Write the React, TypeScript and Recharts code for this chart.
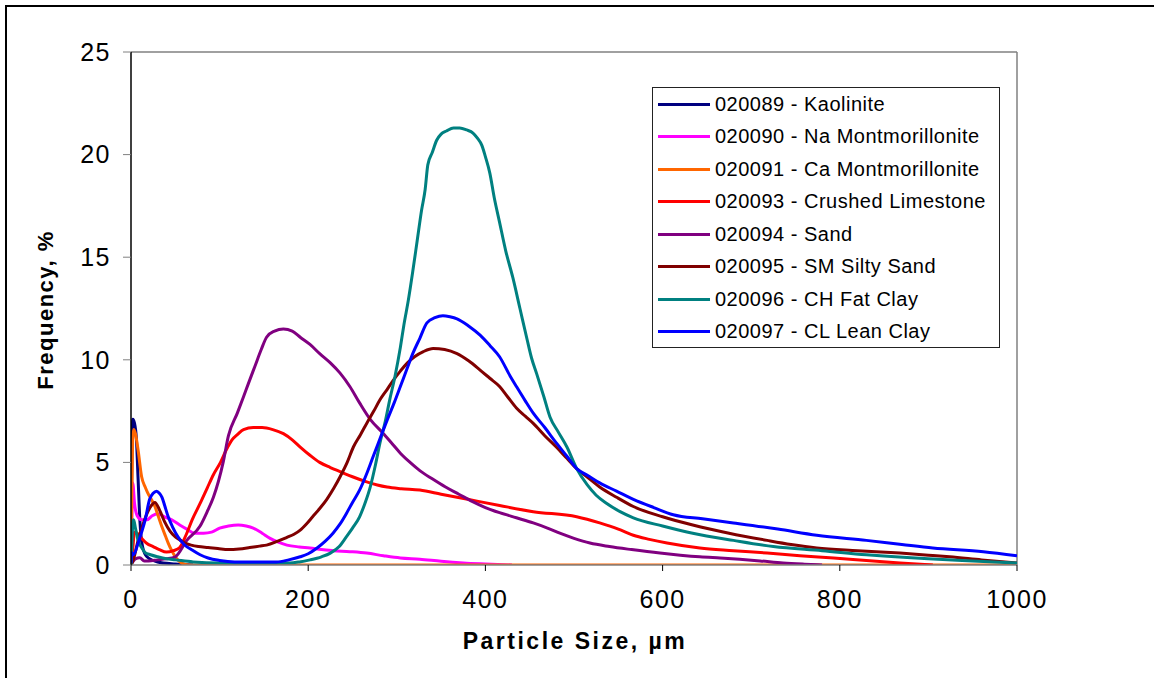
import { LineChart, Line, XAxis, YAxis, Legend, ReferenceLine, Label } from 'recharts';

// particle size (µm) / frequency (%) pairs for each sample
const kaolinite = [
  [0, 0.3], [1, 5.5], [2, 7.1], [4, 6.9], [6, 6.2], [8, 4.2], [10, 2.2], [13, 0.9],
  [18, 0.4], [30, 0.15], [50, 0.05], [70, 0],
];

const naMontmorillonite = [
  [0, 0], [1, 2.2], [2, 4.0], [4, 3.0], [7, 2.4], [12, 2.2], [18, 2.2], [24, 2.4],
  [30, 2.5], [38, 2.35], [46, 2.2], [55, 1.95], [63, 1.75], [72, 1.55], [82, 1.55],
  [91, 1.6], [100, 1.8], [110, 1.9], [121, 1.95], [130, 1.9], [138, 1.8], [148, 1.55],
  [157, 1.3], [167, 1.1], [176, 0.97], [190, 0.88], [202, 0.83], [215, 0.75],
  [228, 0.7], [247, 0.65], [266, 0.58], [285, 0.45], [304, 0.34], [326, 0.28],
  [350, 0.18], [375, 0.1], [400, 0.05], [430, 0],
];

const caMontmorillonite = [
  [0, 0.2], [1, 3.5], [2, 6.2], [3, 6.6], [5, 6.4], [8, 5.6], [12, 4.3], [16, 3.8],
  [19, 3.5], [23, 3.2], [27, 2.85], [31, 2.35], [35, 1.85], [39, 1.4], [42, 1.07],
  [46, 0.7], [50, 0.4], [54, 0.2], [58, 0.08], [65, 0], [1000, 0],
];

const crushedLimestone = [
  [0, 0], [2, 0.8], [4, 1.6], [7, 1.55], [12, 1.3], [18, 1.05], [25, 0.9], [32, 0.75],
  [40, 0.63], [48, 0.7], [55, 0.85], [62, 1.45], [69, 2.2], [78, 3.0], [86, 3.75],
  [93, 4.4], [101, 5.0], [108, 5.65], [114, 6.1], [120, 6.35], [127, 6.6], [138, 6.7],
  [148, 6.7], [160, 6.6], [172, 6.4], [182, 6.1], [191, 5.75], [202, 5.35], [213, 5.0],
  [225, 4.75], [236, 4.55], [250, 4.3], [266, 4.05], [278, 3.9], [289, 3.8],
  [305, 3.72], [326, 3.65], [350, 3.45], [380, 3.2], [416, 2.9], [454, 2.6],
  [503, 2.35], [529, 2.05], [550, 1.75], [567, 1.45], [585, 1.25], [605, 1.07],
  [642, 0.83], [680, 0.7], [718, 0.58], [755, 0.45], [793, 0.34], [830, 0.22],
  [868, 0.1], [905, 0],
];

const sand = [
  [0, 0], [5, 0.3], [10, 0.35], [15, 0.2], [20, 0.2], [30, 0.25], [40, 0.3], [50, 0.4],
  [63, 1.2], [78, 1.9], [86, 2.6], [93, 3.3], [104, 5.0], [110, 6.3], [120, 7.4],
  [127, 8.2], [133, 8.9], [140, 9.7], [147, 10.5], [153, 11.1], [162, 11.4],
  [172, 11.5], [182, 11.4], [191, 11.1], [202, 10.75], [213, 10.3], [225, 9.85],
  [236, 9.35], [247, 8.7], [258, 7.9], [270, 7.1], [285, 6.4], [295, 5.9], [304, 5.45],
  [315, 5.0], [326, 4.6], [340, 4.2], [355, 3.8], [370, 3.45], [385, 3.1], [400, 2.8],
  [416, 2.55], [435, 2.3], [454, 2.05], [470, 1.8], [484, 1.55], [500, 1.3],
  [518, 1.07], [540, 0.9], [565, 0.75], [597, 0.58], [620, 0.48], [642, 0.4],
  [665, 0.34], [687, 0.28], [710, 0.2], [736, 0.1], [760, 0.04], [780, 0],
];

const silty = [
  [0, 0], [3, 0.3], [8, 1.2], [13, 1.9], [18, 2.5], [23, 2.9], [27, 3.05], [32, 2.7],
  [38, 2.1], [44, 1.65], [50, 1.37], [56, 1.2], [61, 1.07], [68, 0.97], [76, 0.9],
  [87, 0.85], [98, 0.8], [110, 0.75], [122, 0.78], [134, 0.85], [145, 0.92],
  [153, 0.97], [165, 1.15], [176, 1.35], [184, 1.5], [191, 1.7], [198, 2.0],
  [205, 2.35], [213, 2.75], [221, 3.2], [229, 3.75], [236, 4.3], [244, 5.0],
  [251, 5.75], [259, 6.35], [266, 6.9], [274, 7.5], [281, 8.05], [289, 8.55],
  [296, 9.0], [304, 9.45], [312, 9.85], [320, 10.15], [330, 10.4], [341, 10.55],
  [354, 10.5], [368, 10.3], [381, 9.95], [394, 9.5], [405, 9.1], [416, 8.7],
  [425, 8.2], [435, 7.65], [445, 7.25], [454, 6.9], [467, 6.3], [480, 5.75],
  [492, 5.2], [503, 4.7], [516, 4.25], [529, 3.8], [548, 3.3], [567, 2.85],
  [600, 2.35], [634, 1.95], [675, 1.55], [718, 1.2], [745, 1.0], [774, 0.83],
  [820, 0.7], [868, 0.58], [900, 0.48], [924, 0.4], [960, 0.25], [1000, 0.1],
];

const fatClay = [
  [0, 0], [1, 1.0], [2, 2.0], [3, 2.2], [5, 1.8], [8, 1.2], [12, 0.85], [16, 0.6],
  [22, 0.5], [30, 0.4], [40, 0.3], [50, 0.25], [70, 0.15], [100, 0.1], [140, 0.1],
  [179, 0.1], [190, 0.15], [202, 0.25], [215, 0.4], [225, 0.58], [235, 0.9],
  [243, 1.37], [250, 1.8], [258, 2.35], [264, 3.0], [270, 3.8], [276, 4.9],
  [281, 5.95], [287, 7.0], [292, 8.05], [298, 9.2], [304, 10.6], [308, 11.7],
  [313, 12.9], [318, 14.3], [323, 15.8], [328, 17.3], [332, 18.3], [335, 19.5],
  [340, 20.1], [345, 20.7], [350, 21.0], [356, 21.15], [364, 21.3], [371, 21.3],
  [379, 21.2], [386, 21.05], [391, 20.8], [396, 20.45], [400, 19.9], [405, 19.1],
  [410, 17.9], [416, 16.7], [423, 15.3], [431, 14.0], [439, 12.5], [447, 11.0],
  [452, 10.1], [458, 9.3], [466, 8.2], [473, 7.2], [482, 6.5], [492, 5.75],
  [503, 4.7], [515, 3.9], [525, 3.4], [537, 3.0], [552, 2.6], [567, 2.3], [600, 1.9],
  [634, 1.55], [680, 1.2], [725, 0.9], [780, 0.7], [830, 0.5], [900, 0.3],
  [950, 0.2], [1000, 0.1],
];

const leanClay = [
  [0, 0.1], [1, 0.6], [3, 0.5], [8, 1.07], [12, 1.6], [16, 2.2], [21, 3.2], [25, 3.5],
  [29, 3.6], [32, 3.5], [35, 3.3], [38, 2.9], [42, 2.35], [47, 1.85], [53, 1.37],
  [60, 1.0], [69, 0.73], [78, 0.5], [87, 0.34], [100, 0.22], [117, 0.15], [140, 0.15],
  [164, 0.15], [178, 0.25], [191, 0.4], [200, 0.55], [210, 0.83], [219, 1.15],
  [228, 1.55], [236, 2.0], [243, 2.5], [250, 3.05], [258, 3.65], [266, 4.45],
  [273, 5.25], [281, 6.15], [289, 7.05], [297, 7.9], [304, 8.7], [311, 9.5],
  [318, 10.3], [326, 11.05], [334, 11.8], [343, 12.05], [352, 12.15], [360, 12.1],
  [368, 12.0], [381, 11.65], [394, 11.2], [405, 10.7], [416, 10.15], [428, 9.2],
  [435, 8.7], [445, 8.0], [454, 7.4], [467, 6.7], [480, 5.95], [492, 5.3], [503, 4.7],
  [516, 4.35], [529, 4.0], [548, 3.6], [567, 3.2], [590, 2.8], [612, 2.45],
  [645, 2.25], [680, 2.05], [730, 1.75], [774, 1.45], [830, 1.2], [870, 1.0],
  [905, 0.83], [962, 0.65], [1000, 0.45],
];

const series = [
  { name: '020089 - Kaolinite', color: '#000080', points: kaolinite },
  { name: '020090 - Na Montmorillonite', color: '#FF00FF', points: naMontmorillonite },
  { name: '020091 - Ca Montmorillonite', color: '#FF6600', points: caMontmorillonite },
  { name: '020093 - Crushed Limestone', color: '#FF0000', points: crushedLimestone },
  { name: '020094 - Sand', color: '#800080', points: sand },
  { name: '020095 - SM Silty Sand', color: '#800000', points: silty },
  { name: '020096 - CH Fat Clay', color: '#008080', points: fatClay },
  { name: '020097 - CL Lean Clay', color: '#0000FF', points: leanClay },
];

const xTicks = [0, 200, 400, 600, 800, 1000];
const yTicks = [0, 5, 10, 15, 20, 25];

const FONT = '"Liberation Sans", Arial, sans-serif';

const renderLegend = (props: any) => {
  const { payload = [] } = props;
  return (
    <div
      style={{
        border: '1px solid #222',
        width: 346,
        height: 259,
        background: '#fff',
        fontFamily: FONT,
        fontSize: 20,
        letterSpacing: 0.5,
        color: '#000',
      }}
    >
      {payload.map((entry: any) => (
        <div
          key={entry.value}
          style={{ display: 'flex', alignItems: 'center', height: 32.5, whiteSpace: 'nowrap' }}
        >
          <span
            style={{
              display: 'inline-block',
              width: 52,
              height: 3,
              marginLeft: 5,
              marginRight: 5,
              background: entry.color,
            }}
          />
          <span>{entry.value}</span>
        </div>
      ))}
    </div>
  );
};

export default function App() {
  return (
    <div
      style={{
        position: 'fixed',
        left: 0,
        top: 0,
        width: 1154,
        height: 678,
        overflow: 'hidden',
        background: '#fff',
      }}
    >
      {/* outer frame */}
      <div
        style={{
          position: 'absolute',
          left: 5,
          top: 5,
          width: 1149,
          height: 673,
          borderLeft: '2px solid #000',
          borderTop: '2px solid #000',
          boxSizing: 'border-box',
        }}
      />
      <LineChart
        width={1154}
        height={678}
        margin={{ top: 52, right: 137, bottom: 53, left: 31 }}
        style={{ position: 'absolute', left: 0, top: 0 }}
      >
        <XAxis
          type="number"
          dataKey="x"
          domain={[0, 1000]}
          ticks={xTicks}
          allowDataOverflow
          height={60}
          axisLine={{ stroke: '#808080', strokeWidth: 1.5 }}
          tickLine={{ stroke: '#000' }}
          tickSize={6}
          tickMargin={19}
          tick={{ fill: '#000', fontSize: 25, fontFamily: FONT, letterSpacing: 1.5 }}
        >
          <Label
            content={() => (
              <text
                x={575}
                y={649}
                textAnchor="middle"
                fontFamily={FONT}
                fontWeight="bold"
                fontSize={23}
                letterSpacing={2.5}
                fill="#000"
              >
                Particle Size, µm
              </text>
            )}
          />
        </XAxis>
        <YAxis
          type="number"
          domain={[0, 25]}
          ticks={yTicks}
          allowDataOverflow
          width={100}
          axisLine={{ stroke: '#000', strokeWidth: 1.5 }}
          tickLine={{ stroke: '#808080' }}
          tickSize={8}
          tickMargin={12}
          tick={{ fill: '#000', fontSize: 25, fontFamily: FONT, letterSpacing: 1.5 }}
        >
          <Label
            content={() => (
              <text
                x={53}
                y={310}
                transform="rotate(-90 53 310)"
                textAnchor="middle"
                fontFamily={FONT}
                fontWeight="bold"
                fontSize={22}
                letterSpacing={1.5}
                fill="#000"
              >
                Frequency, %
              </text>
            )}
          />
        </YAxis>
        <ReferenceLine y={25} stroke="#808080" strokeWidth={1.5} />
        <ReferenceLine x={1000} stroke="#808080" strokeWidth={1.5} />
        <Legend
          layout="vertical"
          align="center"
          verticalAlign="middle"
          content={renderLegend}
          wrapperStyle={{ left: 652, top: 87, width: 348, height: 261 }}
        />
        {series.map((s) => (
          <Line
            key={s.name}
            name={s.name}
            data={s.points.map(([x, y]) => ({ x, y }))}
            dataKey="y"
            type="monotone"
            stroke={s.color}
            strokeWidth={3}
            dot={false}
            activeDot={false}
            isAnimationActive={false}
          />
        ))}
      </LineChart>
    </div>
  );
}
